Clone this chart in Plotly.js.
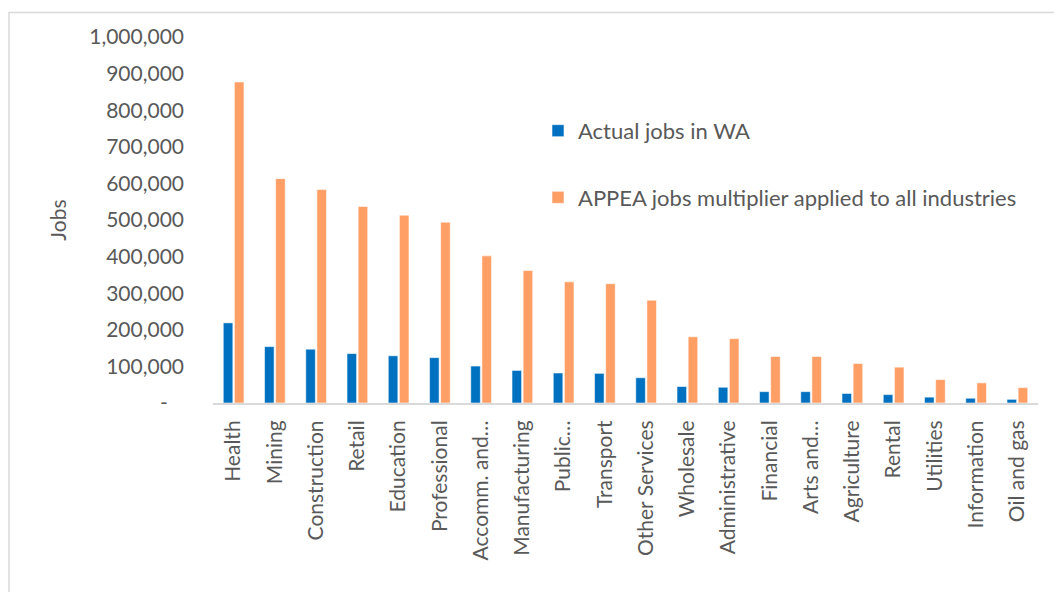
<!DOCTYPE html>
<html>
<head>
<meta charset="utf-8">
<script src="https://cdn.plot.ly/plotly-3.0.1.min.js"></script>
<style>
  html, body { margin: 0; padding: 0; background: #ffffff; }
  #chart { width: 1054px; height: 592px; }
</style>
</head>
<body>
<div id="chart"></div>
<script>
// ---- Data ----
const categories = [
  "Health", "Mining", "Construction", "Retail", "Education", "Professional",
  "Accomm. and\u2026", "Manufacturing", "Public\u2026", "Transport", "Other Services",
  "Wholesale", "Administrative", "Financial", "Arts and\u2026", "Agriculture",
  "Rental", "Utilities", "Information", "Oil and gas"
];
const actualJobs = [
  219000, 154000, 147000, 135000, 129000, 124000,
  101000, 89000, 82000, 81000, 69000,
  45000, 43000, 31000, 31000, 26000,
  23000, 16000, 13000, 10000
];
const multiplierJobs = [
  877000, 613000, 583000, 537000, 513000, 494000,
  402000, 362000, 331000, 326000, 281000,
  181000, 176000, 127000, 127000, 108000,
  98000, 64000, 55000, 42000
];
const seriesNames = ["Actual jobs in WA", "APPEA jobs multiplier applied to all industries"];
const yTickValues = [0, 100000, 200000, 300000, 400000, 500000, 600000, 700000, 800000, 900000, 1000000];
const yTickLabels = ["-\u00a0\u00a0\u00a0", "100,000", "200,000", "300,000", "400,000", "500,000",
                     "600,000", "700,000", "800,000", "900,000", "1,000,000"];
const yTitle = "Jobs";

const textColor = "#595959";
const fontFamily = "Lato, 'Open Sans', sans-serif";

const traces = [
  {
    type: "bar",
    name: seriesNames[0],
    x: categories,
    y: actualJobs,
    legendgroup: "a",
    marker: { color: "#0070C0", line: { color: "rgba(255,255,255,0.55)", width: 1 } },
    hoverinfo: "x+y"
  },
  {
    type: "bar",
    name: seriesNames[1],
    x: categories,
    y: multiplierJobs,
    legendgroup: "b",
    marker: { color: "#FF9E65", line: { color: "rgba(255,255,255,0.55)", width: 1 } },
    hoverinfo: "x+y"
  }
];

// Plot area in pixels: x 213..1038, y 37..403.5
const L = 213, R = 1038, T = 37, B = 403.5;
const W = R - L, H = B - T;
const px = v => (v - L) / W;
const py = v => (B - v) / H;

const layout = {
  width: 1054,
  height: 592,
  margin: { l: L, r: 1054 - R, t: T, b: 592 - B, pad: 0 },
  paper_bgcolor: "#ffffff",
  plot_bgcolor: "#ffffff",
  font: { family: fontFamily, color: textColor, size: 21 },
  barmode: "group",
  bargap: 0.46,
  bargroupgap: 0.14,
  showlegend: true,
  legend: {
    x: px(538), xanchor: "left",
    y: py(110), yanchor: "top",
    traceorder: "grouped",
    tracegroupgap: 35,
    bgcolor: "rgba(0,0,0,0)",
    font: { family: fontFamily, color: textColor, size: 22 }
  },
  xaxis: {
    type: "category",
    tickangle: -90,
    showgrid: false,
    zeroline: false,
    showline: true,
    linecolor: "#d9d9d9",
    linewidth: 2,
    ticks: "",
    ticklabelstandoff: 7,
    tickfont: { family: fontFamily, color: textColor, size: 21 },
    fixedrange: true
  },
  yaxis: {
    range: [0, 1000000],
    tickvals: yTickValues,
    ticktext: yTickLabels,
    showgrid: false,
    zeroline: false,
    showline: false,
    ticks: "",
    ticklabelstandoff: 28,
    tickfont: { family: fontFamily, color: textColor, size: 21 },
    title: { text: yTitle, font: { family: fontFamily, color: textColor, size: 21 }, standoff: 16 },
    fixedrange: true
  },
  shapes: [
    {
      type: "rect", xref: "paper", yref: "paper",
      x0: px(9), x1: px(1070), y0: py(620), y1: py(12.5),
      line: { color: "#d9d9d9", width: 1.5 },
      fillcolor: "rgba(0,0,0,0)",
      layer: "below"
    }
  ]
};

Plotly.newPlot("chart", traces, layout, { displayModeBar: false, staticPlot: true });
</script>
</body>
</html>
